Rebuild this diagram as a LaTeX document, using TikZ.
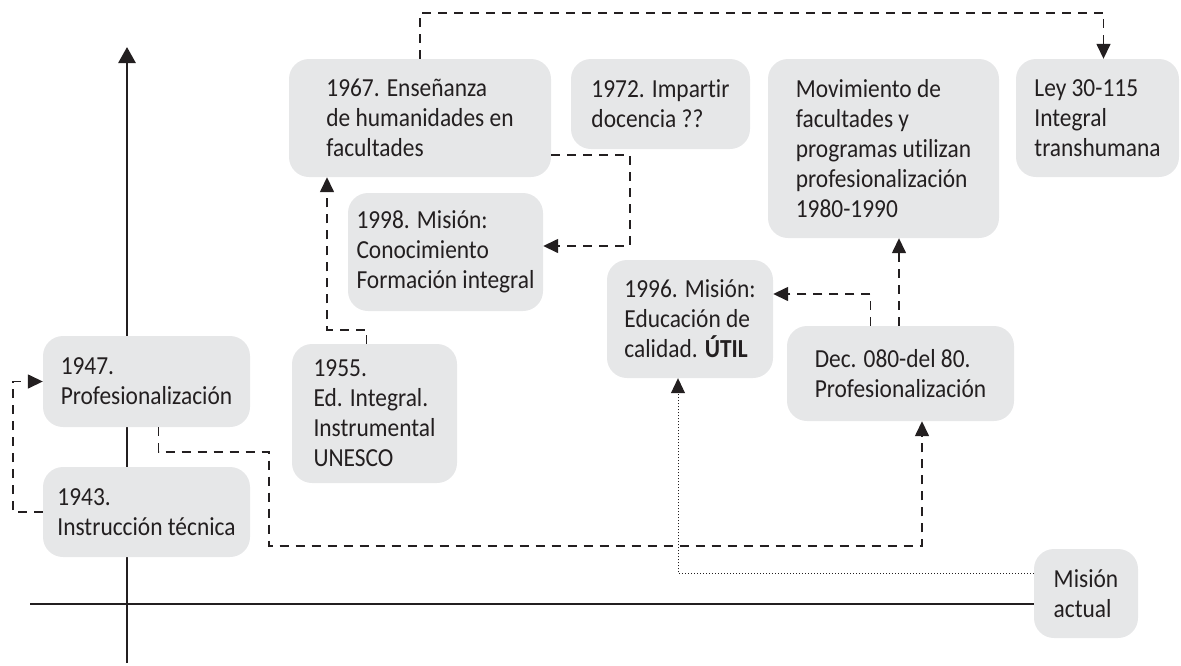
\documentclass[tikz,border=0pt]{standalone}
\usepackage{fontspec}
\setmainfont{Carlito}[Ligatures=NoCommon, FakeStretch=0.9]
\usetikzlibrary{arrows.meta}

\definecolor{boxgray}{RGB}{230,231,232}
\definecolor{ink}{RGB}{35,31,32}

\begin{document}
\begin{tikzpicture}[
    x=1pt, y=-1pt,
    event/.style={rectangle, rounded corners=20pt, fill=boxgray, text=ink, align=left, inner sep=6pt, font=\fontsize{26}{30}\selectfont},
    link/.style={-{Triangle[length=15pt,width=14pt]}, draw=ink, line width=1.5pt, dash pattern=on 9pt off 7pt},
    hint/.style={-{Triangle[length=15pt,width=14pt]}, draw=ink, line width=0.9pt, dash pattern=on 1pt off 2pt},
    axis/.style={draw=ink, line width=2.8pt}
]
\useasboundingbox (0,0) rectangle (1181,665);

% Axes
\draw[axis, -{Triangle[length=16pt,width=17pt]}] (127,663) -- (127,47);
\draw[axis] (30,604) -- (1034,604);

% Top row
\node[event, minimum width=262pt, minimum height=118pt] (b1967) at (420,118) {1967. Enseñanza\\de humanidades en\\facultades};
\node[event, minimum width=179pt, minimum height=90pt] (b1972) at (660.5,104) {1972. Impartir\\docencia ??};
\node[event, minimum width=231pt, minimum height=179pt] (bmov) at (883.5,148.5) {Movimiento de\\facultades y\\programas utilizan\\profesionalización\\1980-1990};
\node[event, minimum width=163pt, minimum height=118pt] (bley) at (1097.5,118) {Ley 30-115\\Integral\\transhumana};

% Middle
\node[event, minimum width=195pt, minimum height=118pt] (b1998) at (445.5,252) {1998. Misión:\\Conocimiento\\Formación integral};
\node[event, minimum width=166pt, minimum height=118pt] (b1996) at (690,319) {1996. Misión:\\Educación de\\calidad. \textbf{ÚTIL}};
\node[event, minimum width=227pt, minimum height=95pt] (bdec) at (900.5,373.5) {Dec. 080-del 80.\\Profesionalización};

% Lower left
\node[event, minimum width=207pt, minimum height=91pt] (b1947) at (146.5,381.5) {1947.\\Profesionalización};
\node[event, minimum width=165pt, minimum height=139pt] (b1955) at (374.5,413.5) {1955.\\Ed. Integral.\\Instrumental\\UNESCO};
\node[event, minimum width=207pt, minimum height=90pt] (b1943) at (146.5,512) {1943.\\Instrucción técnica};
\node[event, minimum width=104pt, minimum height=89pt] (bmis) at (1086,593.5) {Misión\\actual};

% Links
\coordinate (turn1972) at (630,155);
\coordinate (lowrun) at (269,546);

\draw[link] (b1943.west) -- ++(-30,0) |- (b1947.west);
\draw[link] ([xshift=12pt]b1947.south) -- ++(0,25) -| (lowrun) -| ([xshift=21.5pt]bdec.south);
\draw[link] ([xshift=-8pt]b1955.north) -- ++(0,-14) -| ([xshift=-93pt]b1967.south);
\draw[link] (b1967.north) -- ++(0,-46) -| ([xshift=6pt]bley.north);
\draw[link] ([yshift=-37pt]b1967.east) -- (turn1972) |- ([yshift=6pt]b1998.east);
\draw[link] ([xshift=-30pt]bdec.north) |- ([yshift=25pt]b1996.east);
\draw[link] ([xshift=-1.5pt]bdec.north) -- ([xshift=-1.5pt]bdec.north |- bmov.south);
\draw[hint] ([yshift=20pt]bmis.west) -| ([xshift=-12pt]b1996.south);

\end{tikzpicture}
\end{document}
